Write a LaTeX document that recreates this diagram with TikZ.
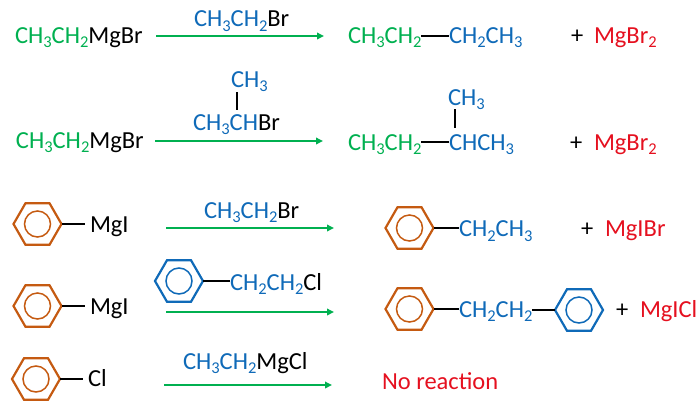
\documentclass[tikz,border=0pt]{standalone}
\usepackage{fontspec}
\setmainfont{Carlito}
\usetikzlibrary{shapes.geometric,arrows.meta}
\definecolor{cg}{HTML}{00B050}
\definecolor{cb}{HTML}{0F6AB8}
\definecolor{cr}{HTML}{E5101F}
\definecolor{cbr}{HTML}{C55A11}
\newcommand{\sbs}[1]{\raisebox{-4.6pt}{\fontsize{16.5pt}{17pt}\selectfont #1}}
\newcommand{\G}[1]{\textcolor{cg}{#1}}
\newcommand{\B}[1]{\textcolor{cb}{#1}}
\newcommand{\R}[1]{\textcolor{cr}{#1}}
\begin{document}
\begin{tikzpicture}[x=1pt,y=-1pt,
  txt/.style={anchor=base west,inner sep=0pt,outer sep=0pt,font=\fontsize{24.5pt}{26pt}\selectfont},
  hexring/.style={regular polygon,regular polygon sides=6,minimum size=48pt,inner sep=0pt,outer sep=0pt,draw,line width=2.2pt},
  ringin/.style={circle,minimum size=26pt,inner sep=0pt,outer sep=0pt,draw,line width=1.5pt},
  bondline/.style={line width=1.7pt,black},
  rxn/.style={line width=2pt,cg,-{Triangle[length=7pt,width=6.5pt]}}]
\useasboundingbox (0,0) rectangle (700,413);
% row 1
\node[txt] (a1) at (15,43) {\G{CH\sbs{3}CH\sbs{2}}MgBr};
\coordinate (a1s) at (156,36); \coordinate (a1e) at (324,36);
\draw[rxn] (a1s) -- (a1e);
\node[txt] (a1r) at (194,26.5) {\B{CH\sbs{3}CH\sbs{2}}Br};
\node[txt] (p1a) at (348,43) {\G{CH\sbs{3}CH\sbs{2}}};
\node[txt] (p1b) at (449,43) {\B{CH\sbs{2}CH\sbs{3}}};
\draw[bondline] ([yshift=7pt]p1a.base east) -- ([yshift=7pt]p1b.base west);
\node[txt] (p1p) at (571,43) {+};
\node[txt] (p1m) at (594,43) {\R{MgBr\sbs{2}}};
% row 2
\node[txt] (a2) at (16,148) {\G{CH\sbs{3}CH\sbs{2}}MgBr};
\coordinate (a2s) at (155,141); \coordinate (a2e) at (323,141);
\draw[rxn] (a2s) -- (a2e);
\node[txt] (a2t) at (231,87) {\B{CH\sbs{3}}};
\node[txt] (a2r) at (193,130) {\B{CH\sbs{3}CH}Br};
\draw[bondline] (237,92) -- (237,110);
\node[txt] (p2a) at (348,150) {\G{CH\sbs{3}CH\sbs{2}}};
\node[txt] (p2b) at (449,150) {\B{CHCH\sbs{3}}};
\node[txt] (p2t) at (448,105) {\B{CH\sbs{3}}};
\draw[bondline] ([yshift=8pt]p2a.base east) -- ([yshift=8pt]p2b.base west);
\draw[bondline] (455,109) -- (455,128);
\node[txt] (p2p) at (570,150) {+};
\node[txt] (p2m) at (594,150) {\R{MgBr\sbs{2}}};
% row 3
\node[hexring,cbr] (r3) at (37.5,224) {};
\node[ringin,cbr] at (r3.center) {};
\node[txt] (a3) at (90,232) {MgI};
\draw[bondline] (r3.east) -- (85,224);
\coordinate (a3s) at (166,228); \coordinate (a3e) at (334,228);
\draw[rxn] (a3s) -- (a3e);
\node[txt] (a3r) at (204,218) {\B{CH\sbs{3}CH\sbs{2}}Br};
\node[hexring,cbr] (q3) at (409.5,228) {};
\node[ringin,cbr] at (q3.center) {};
\node[txt] (p3b) at (459,236.5) {\B{CH\sbs{2}CH\sbs{3}}};
\draw[bondline] (q3.east) -- (p3b.base west |- q3.east);
\node[txt] (p3p) at (581,236) {+};
\node[txt] (p3m) at (605,236) {\R{MgIBr}};
% row 4
\node[hexring,cbr] (r4) at (37.5,306) {};
\node[ringin,cbr] at (r4.center) {};
\node[txt] (a4) at (90,314) {MgI};
\draw[bondline] (r4.east) -- (85,306);
\coordinate (a4s) at (166,312); \coordinate (a4e) at (334,312);
\draw[rxn] (a4s) -- (a4e);
\node[hexring,cb] (b4) at (179,281) {};
\node[ringin,cb] at (b4.center) {};
\node[txt] (a4r) at (230,290) {\B{CH\sbs{2}CH\sbs{2}}Cl};
\draw[bondline] (b4.east) -- (a4r.base west |- b4.east);
\node[hexring,cbr] (q4) at (409.5,309) {};
\node[ringin,cbr] at (q4.center) {};
\node[txt] (p4b) at (459,317) {\B{CH\sbs{2}CH\sbs{2}}};
\draw[bondline] (q4.east) -- (p4b.base west |- q4.east);
\node[hexring,cb] (b4p) at (579,310) {};
\node[ringin,cb] at (b4p.center) {};
\draw[bondline] (p4b.base east |- b4p.west) -- (b4p.west);
\node[txt] (p4p) at (616,317) {+};
\node[txt] (p4m) at (640,317) {\R{MgICl}};
% row 5
\node[hexring,cbr] (r5) at (36,379) {};
\node[ringin,cbr] at (r5.center) {};
\node[txt] (a5) at (88,386.5) {Cl};
\draw[bondline] (r5.east) -- (83,379);
\coordinate (a5s) at (164,385); \coordinate (a5e) at (332,385);
\draw[rxn] (a5s) -- (a5e);
\node[txt] (a5r) at (183,369) {\B{CH\sbs{3}CH\sbs{2}}MgCl};
\node[txt] (nr) at (382,389) {\R{No reaction}};
\end{tikzpicture}
\end{document}
